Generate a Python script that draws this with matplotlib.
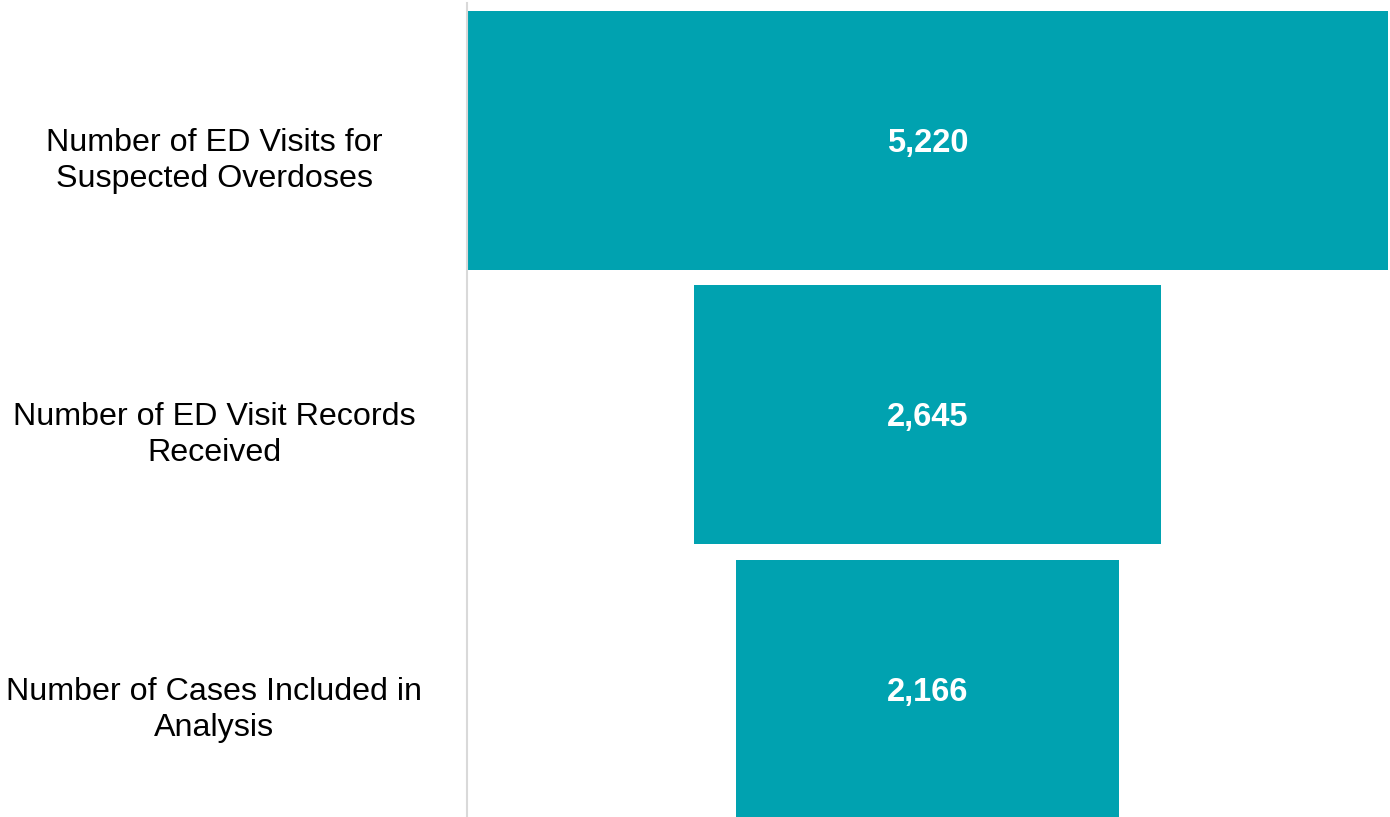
import matplotlib.pyplot as plt
import matplotlib.transforms as mtransforms

plt.rcParams['font.family'] = ['Liberation Sans', 'DejaVu Sans']

# data
stages = ['Number of ED Visits for\nSuspected Overdoses',
          'Number of ED Visit Records\nReceived',
          'Number of Cases Included in\nAnalysis']
counts = [5220, 2645, 2166]
bar_color = '#00A2B0'

fig = plt.figure(figsize=(13.9, 8.17), dpi=100)
ax = fig.add_axes([467 / 1390, 0, (1388 - 467) / 1390, 814 / 817])

ypos = list(range(len(stages)))
lefts = [-c / 2 for c in counts]
ax.barh(ypos, counts, left=lefts, height=0.942, color=bar_color)

for y, c in zip(ypos, counts):
    ax.text(0, y + 0.01, f'{c:,}', ha='center', va='center', color='white',
            fontsize=23.5, fontweight='bold')

# category labels, centred in the left margin (sit a bit below bar centre)
trans = mtransforms.blended_transform_factory(fig.transFigure, ax.transData)
for y, s in zip(ypos, stages):
    ax.text(214 / 1390, y + 0.075, s, transform=trans, ha='center', va='center',
            multialignment='center', fontsize=23.2, linespacing=1.27)

ax.set_xlim(-max(counts) / 2, max(counts) / 2)
ax.set_ylim(2.465, -0.5)
ax.set_xticks([])
ax.set_yticks([])
for side in ['top', 'right', 'bottom']:
    ax.spines[side].set_visible(False)
ax.spines['left'].set_color('#D9D9D9')
ax.spines['left'].set_linewidth(1.5)

fig.savefig('out.png', dpi=100)
